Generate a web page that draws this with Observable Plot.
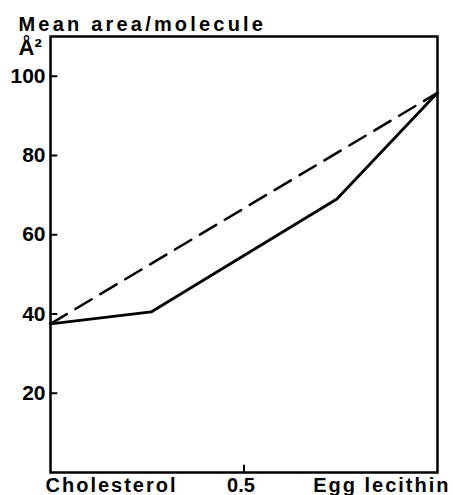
<!DOCTYPE html>
<html>
<head>
<meta charset="utf-8">
<script src="https://cdn.jsdelivr.net/npm/d3@7"></script>
<script src="https://cdn.jsdelivr.net/npm/@observablehq/plot@0.6"></script>
<style>
  html, body { margin: 0; padding: 0; background: #fff; }
</style>
</head>
<body>
<div id="chart"></div>
<script>
// Data
const xTicks = [0, 0.5, 1];
const xTickLabels = ["Cholesterol", "0.5", "Egg lecithin"];
const yTicks = [20, 40, 60, 80, 100];
const solidX = [0, 0.26, 0.74, 1];
const solidY = [37.5, 40.5, 69, 95.8];
const dashedX = [0, 1];
const dashedY = [37.5, 95.8];
const titleText = "Mean area/molecule";
const unitText = "Å²";

const solid = solidX.map((x, i) => ({x, y: solidY[i]}));
const dashed = dashedX.map((x, i) => ({x, y: dashedY[i]}));

const font = "Liberation Sans, Arial, sans-serif";
// plain straight tick shape for vector marks
const tickShape = {draw(context, l) { context.moveTo(0, 0); context.lineTo(0, -l); }};

const chart = Plot.plot({
  width: 453,
  height: 495,
  marginLeft: 50,
  marginRight: 16,
  marginTop: 36,
  marginBottom: 23,
  style: {fontFamily: font, fontSize: "20px", fontWeight: "bold", background: "#fff", color: "#000", overflow: "visible"},
  x: {domain: [0, 1], axis: null},
  y: {domain: [0, 110], axis: null},
  marks: [
    Plot.frame({stroke: "#000", strokeWidth: 2.5}),
    // y tick labels (outside) and inward tick marks
    Plot.axisY(yTicks, {tickSize: 0, tickPadding: 5, label: null, fontSize: 21, fontWeight: "bold", fontFamily: font}),
    Plot.vector(yTicks, {y: d => d, frameAnchor: "left", length: 6, rotate: 90, anchor: "start", stroke: "#000", strokeWidth: 2, shape: tickShape}),
    Plot.vector([xTicks[1]], {x: d => d, frameAnchor: "bottom", length: 7, rotate: 0, anchor: "start", stroke: "#000", strokeWidth: 2, shape: tickShape}),
    // x tick labels
    Plot.text([xTicks[0]], {x: d => d, text: () => xTickLabels[0], frameAnchor: "bottom", textAnchor: "start", lineAnchor: "bottom", dy: 19, dx: -5, fontSize: 20, fontWeight: "bold", fontFamily: font}),
    Plot.text([xTicks[1]], {x: d => d, text: () => xTickLabels[1], frameAnchor: "bottom", textAnchor: "middle", lineAnchor: "bottom", dy: 19, dx: -3, fontSize: 20, fontWeight: "bold", fontFamily: font}),
    Plot.text([xTicks[2]], {x: d => d, text: () => xTickLabels[2], frameAnchor: "bottom", textAnchor: "end", lineAnchor: "bottom", dy: 19, dx: 13, fontSize: 20, fontWeight: "bold", fontFamily: font}),
    // title and unit
    Plot.text([titleText], {text: d => d, frameAnchor: "top-left", textAnchor: "start", lineAnchor: "bottom", dx: -32, dy: -6, fontSize: 20, fontWeight: "bold", fontFamily: font}),
    Plot.text([unitText], {text: d => d, frameAnchor: "top-left", textAnchor: "start", lineAnchor: "top", dx: -32, dy: 3, fontSize: 22, fontWeight: "bold", fontFamily: font}),
    // data lines
    Plot.line(dashed, {x: "x", y: "y", stroke: "#000", strokeWidth: 2.5, strokeDasharray: "19,10"}),
    Plot.line(solid, {x: "x", y: "y", stroke: "#000", strokeWidth: 2.8, strokeLinejoin: "miter"})
  ]
});

// letter spacing for title and x labels
chart.querySelectorAll("text").forEach(t => {
  const s = t.textContent;
  if (s === titleText) t.style.letterSpacing = "3.2px";
  if (s === xTickLabels[0] || s === xTickLabels[2]) t.style.letterSpacing = "2px";
});

document.getElementById("chart").appendChild(chart);
</script>
</body>
</html>
